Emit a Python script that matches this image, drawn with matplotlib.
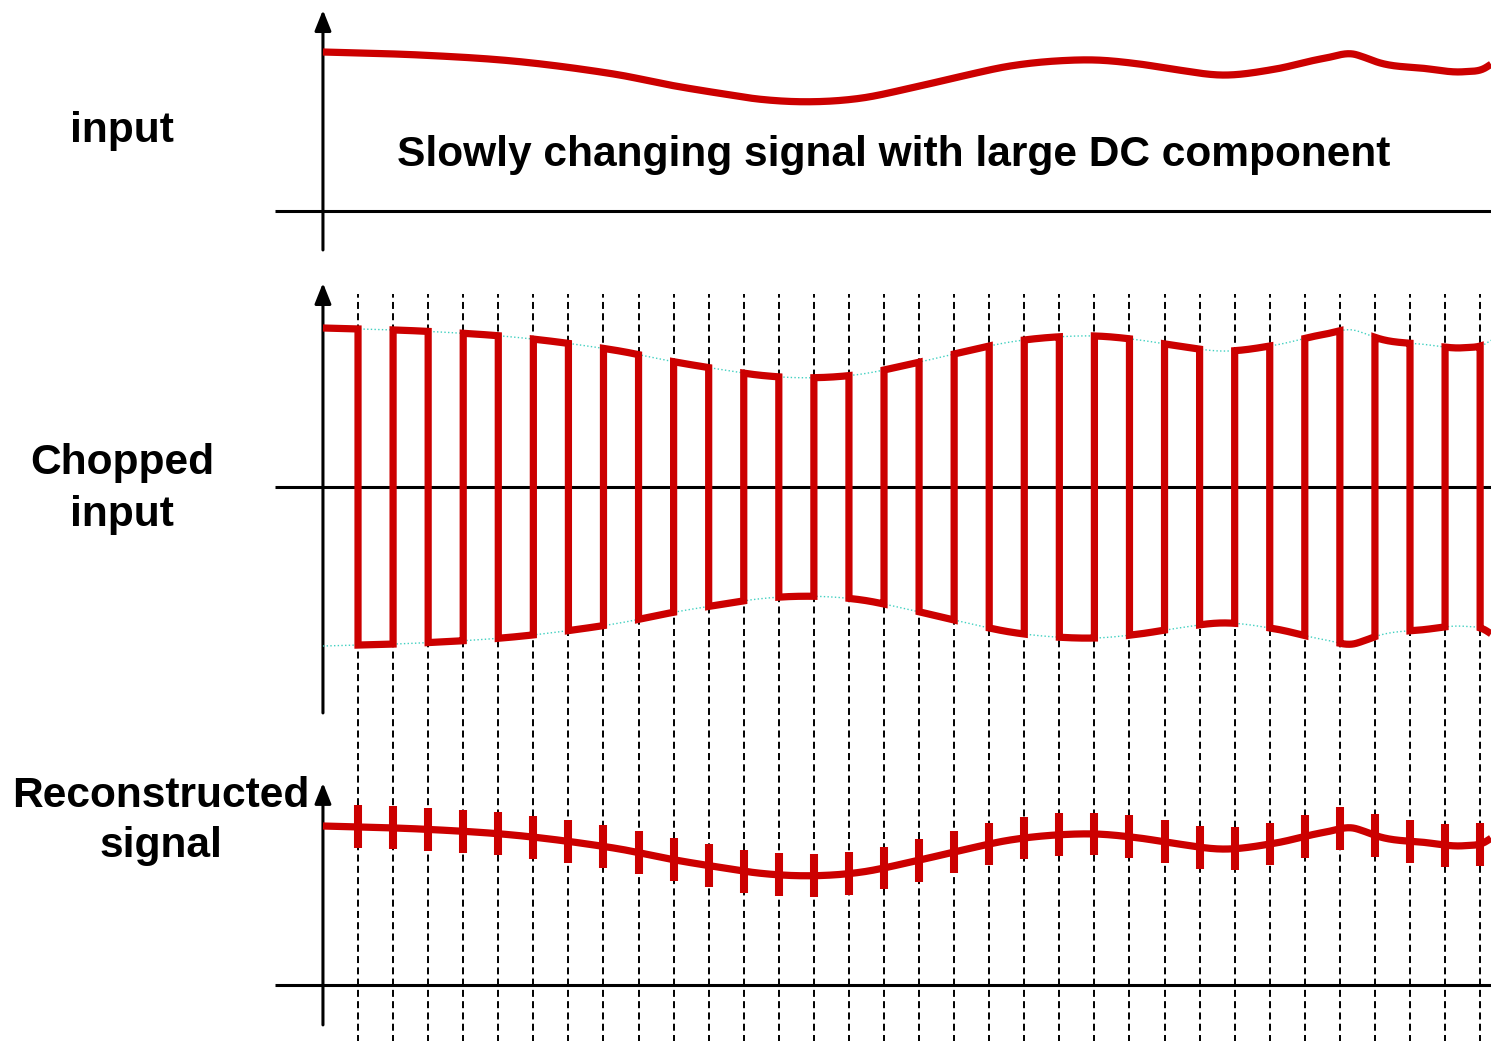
import numpy as np
import matplotlib.pyplot as plt

plt.rcParams['font.family'] = ['Liberation Sans', 'DejaVu Sans']

# slowly changing input (time in chopper half-periods)
t_knots = [0.0, 2.77, 5.62, 7.53, 8.47, 9.90, 11.32, 12.46, 13.80, 15.32,
           16.74, 18.17, 19.60, 21.02, 21.96, 23.33, 24.27, 25.70, 27.12,
           28.55, 29.41, 29.69, 30.09, 31.40, 32.54, 33.12, 33.31]
v_knots = [1.000, 0.981, 0.939, 0.887, 0.855, 0.792, 0.740, 0.703, 0.687, 0.709,
           0.772, 0.845, 0.912, 0.945, 0.950, 0.923, 0.891, 0.855, 0.891,
           0.960, 0.986, 0.967, 0.935, 0.897, 0.876, 0.897, 0.923]
n_edges = 33          # chopper clock edges, one per half-period
t_end = 33.31

RED = '#CC0000'
CYAN = '#40D0C0'

W, H = 1491, 1041
PX = 159.0            # pixels per signal unit
base_in, base_chop, base_rec = (H - 211) / PX, (H - 487) / PX, (H - 985) / PX


def smooth(tk, vk, t):
    # cubic hermite through the knots
    tk = np.asarray(tk); vk = np.asarray(vk)
    m = np.gradient(vk, tk)
    i = np.clip(np.searchsorted(tk, t) - 1, 0, len(tk) - 2)
    h = tk[i + 1] - tk[i]
    s = (t - tk[i]) / h
    h00 = 2 * s**3 - 3 * s**2 + 1
    h10 = s**3 - 2 * s**2 + s
    h01 = -2 * s**3 + 3 * s**2
    h11 = s**3 - s**2
    return h00 * vk[i] + h10 * h * m[i] + h01 * vk[i + 1] + h11 * h * m[i + 1]


fig = plt.figure(figsize=(W / 100, H / 100), dpi=100)
ax = fig.add_axes([0, 0, 1, 1])
ax.set_xlim(-9.21, 33.31)
ax.set_ylim(0, H / PX)
ax.axis('off')

t = np.linspace(0, t_end, 2000)
sig = smooth(t_knots, v_knots, t)
edges = np.arange(1, n_edges + 1)

# chopped signal, sign flips at every edge
tc, vc = [], []
for k in range(n_edges + 1):
    tt = np.linspace(k, min(k + 1, t_end), 60)
    tc.append(tt)
    vc.append((-1) ** k * smooth(t_knots, v_knots, tt))
tc = np.concatenate(tc)
vc = np.concatenate(vc)

# clock lines
ax.vlines(edges, -0.2, base_chop + 1.215, color='black', lw=1.4,
          linestyles=(0, (3.6, 2.2)), zorder=1)


def axis_arrows(base, lo, hi):
    ax.plot([-1.37, t_end + 1], [base, base], color='black', lw=2.2, zorder=2,
            solid_capstyle='butt')
    ax.annotate('', xy=(0, base + hi), xytext=(0, base + lo),
                arrowprops=dict(arrowstyle='-|>,head_length=1.25,head_width=0.5',
                                lw=2.2, color='black', shrinkA=0, shrinkB=0,
                                mutation_scale=10),
                zorder=2)


axis_arrows(base_in, -0.245, 1.264)
axis_arrows(base_chop, -1.421, 1.283)
axis_arrows(base_rec, -0.251, 1.271)

# input
ax.plot(t, base_in + sig, color=RED, lw=5.2, zorder=3, solid_capstyle='butt')

# chopped input with envelope
ax.plot(t, base_chop + sig, color=CYAN, lw=1, ls=':', zorder=2)
ax.plot(t, base_chop - sig, color=CYAN, lw=1, ls=':', zorder=2)
ax.plot(tc, base_chop + vc, color=RED, lw=5.2, zorder=3,
        solid_joinstyle='miter', solid_capstyle='butt')

# reconstructed
ax.plot(t, base_rec + sig, color=RED, lw=5.2, zorder=3, solid_capstyle='butt')
s_e = smooth(t_knots, v_knots, edges.astype(float))
ax.vlines(edges, base_rec + s_e - 0.135, base_rec + s_e + 0.135,
          color=RED, lw=5.8, zorder=3)

kw = dict(ha='center', va='baseline', fontsize=30.6, fontweight='bold')
fig.text(122 / W, 1 - 142 / H, 'input', **kw)
fig.text(122 / W, 1 - 474 / H, 'Chopped', **kw)
fig.text(122 / W, 1 - 526 / H, 'input', **kw)
fig.text(161 / W, 1 - 807 / H, 'Reconstructed', **kw)
fig.text(161 / W, 1 - 857 / H, 'signal', **kw)
fig.text(894 / W, 1 - 166 / H, 'Slowly changing signal with large DC component', **kw)

fig.savefig('out.png', dpi=100)
